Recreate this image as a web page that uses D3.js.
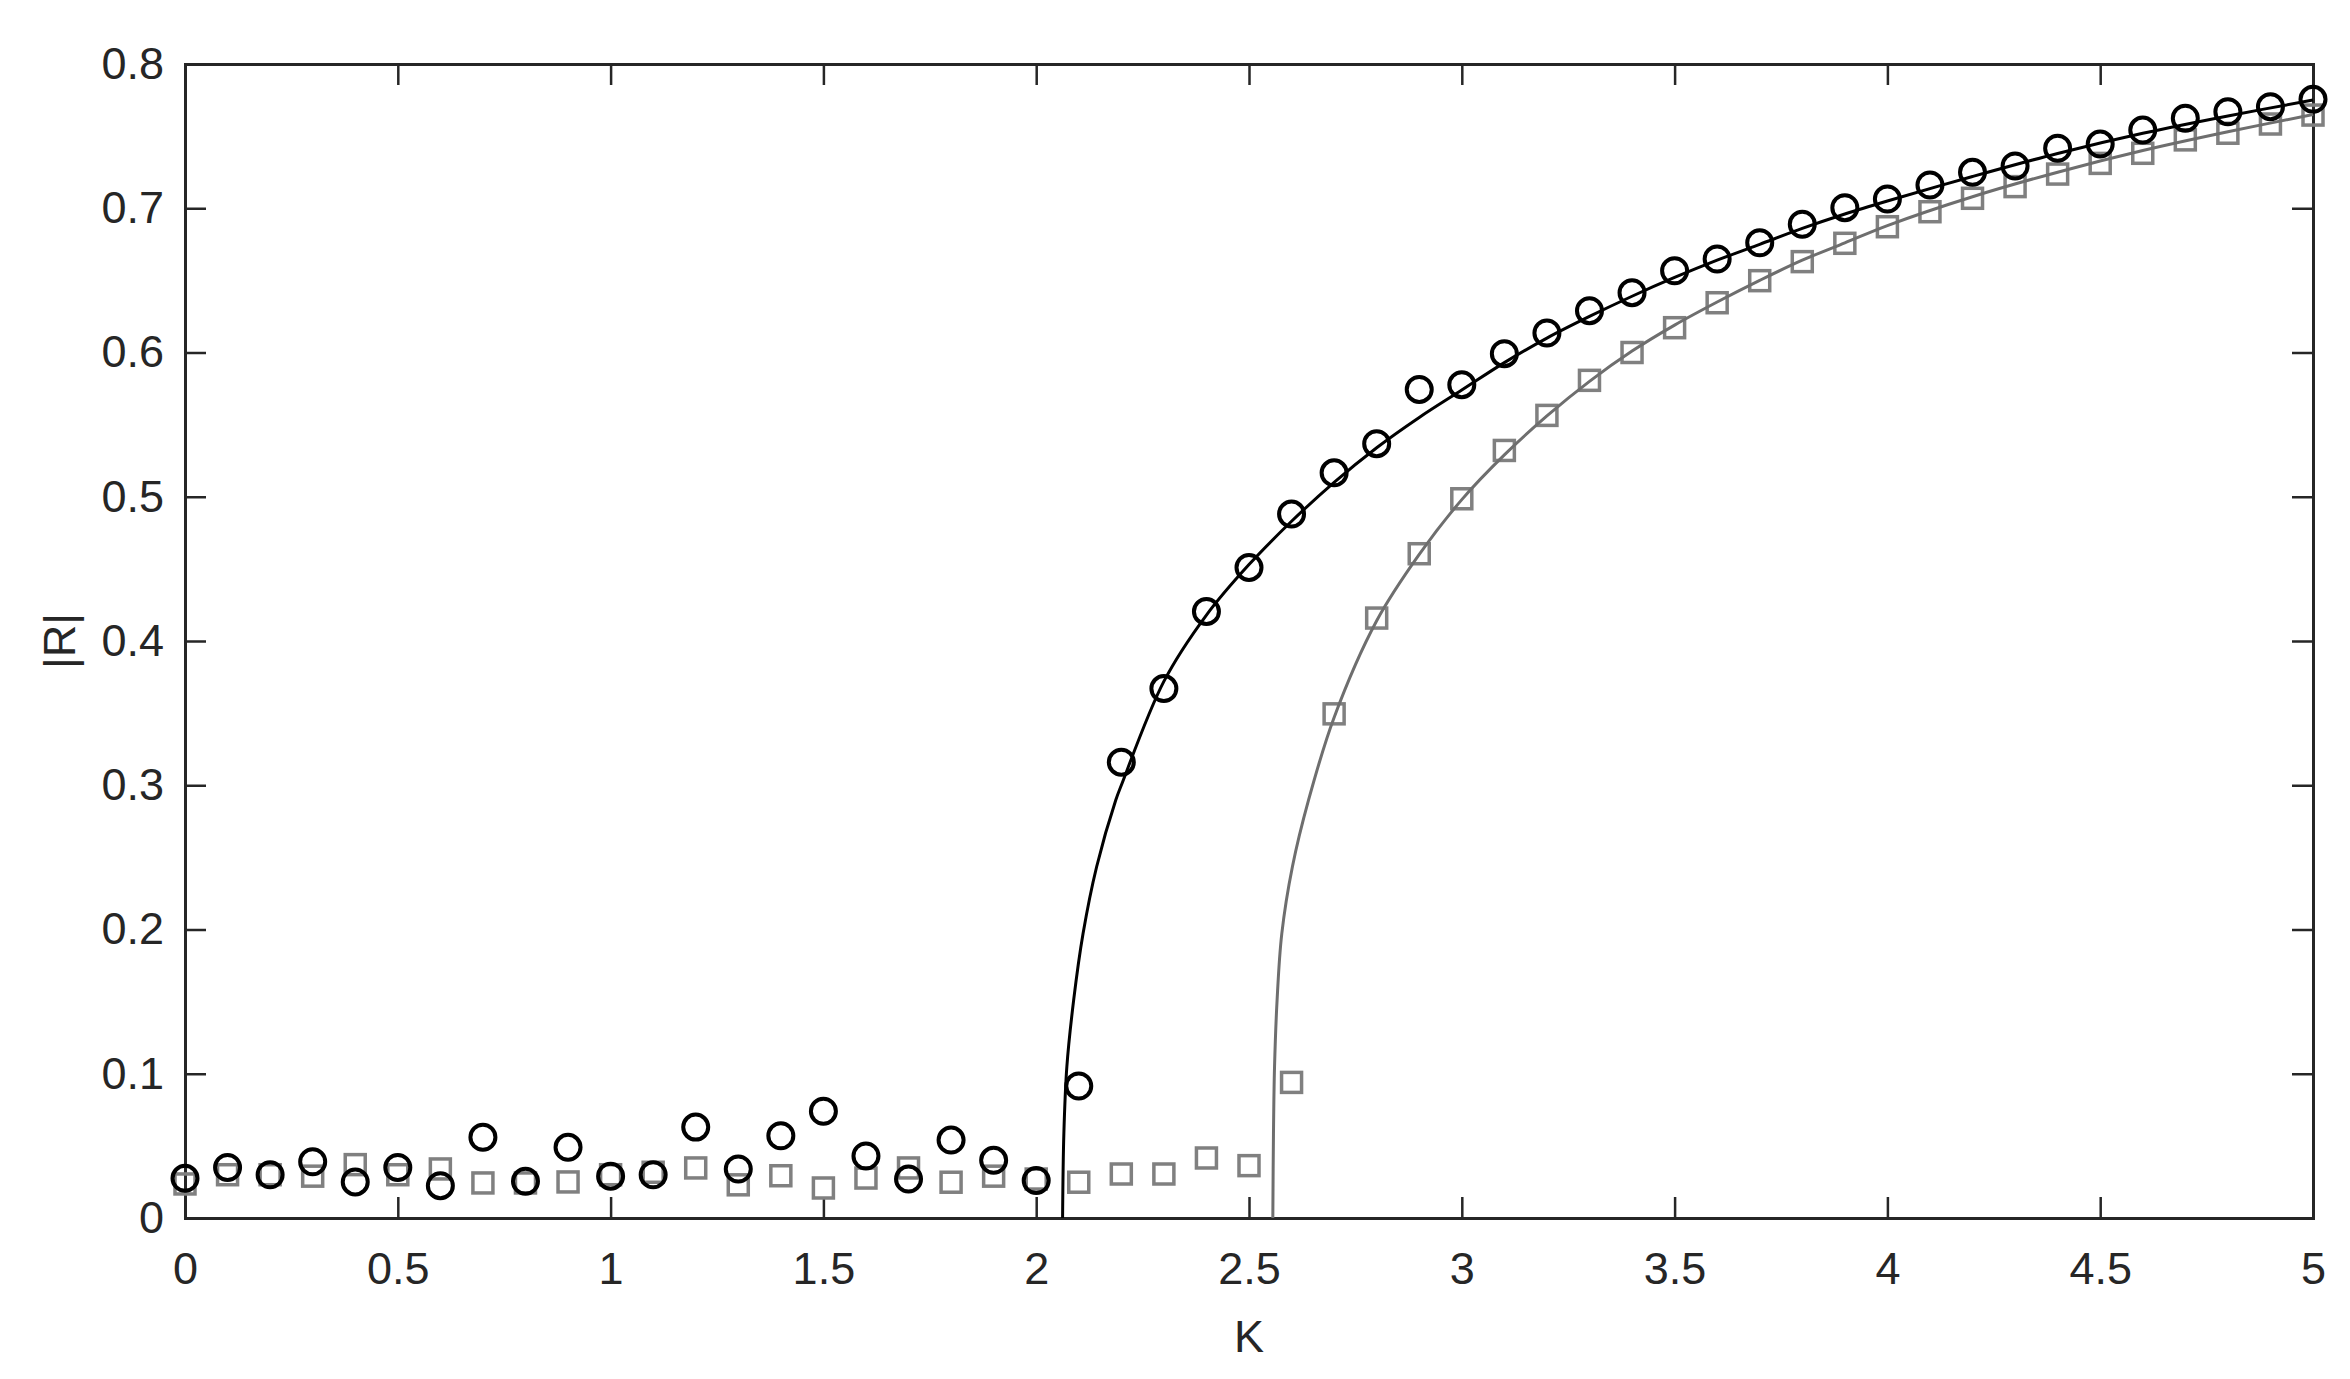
<!DOCTYPE html>
<html>
  <head>
    <meta charset="utf-8">
    <title>|R| against K</title>
    <script src="https://d3js.org/d3.v7.min.js"></script>
    <style>
      body { margin: 0; background: #fff; }
      svg { display: block; font-family: Arial, "Liberation Sans", sans-serif; }
      .axis text { font-size: 45px; fill: #262626; }
      .axis line { stroke: #262626; stroke-width: 2.5; }
      .axis path { stroke: #262626; stroke-width: 3; }
      .label { font-size: 45px; fill: #262626; }
    </style>
  </head>
  <body>
    <svg id="chart" width="2350" height="1379"></svg>
    <script>
      // K values for the markers (0 to 5, step 0.1)
      var kValues = [0, 0.1, 0.2, 0.3, 0.4, 0.5, 0.6, 0.7, 0.8, 0.9,
        1, 1.1, 1.2, 1.3, 1.4, 1.5, 1.6, 1.7, 1.8, 1.9,
        2, 2.1, 2.2, 2.3, 2.4, 2.5, 2.6, 2.7, 2.8, 2.9,
        3, 3.1, 3.2, 3.3, 3.4, 3.5, 3.6, 3.7, 3.8, 3.9,
        4, 4.1, 4.2, 4.3, 4.4, 4.5, 4.6, 4.7, 4.8, 4.9, 5];
      // black circles
      var circleR = [0.0275, 0.035, 0.030, 0.039, 0.025, 0.035, 0.0224, 0.056, 0.0254, 0.049,
        0.029, 0.030, 0.063, 0.034, 0.057, 0.074, 0.043, 0.027, 0.054, 0.040,
        0.026, 0.0915, 0.316, 0.367, 0.4205, 0.451, 0.488, 0.5166, 0.5368, 0.5744,
        0.5777, 0.5992, 0.6135, 0.629, 0.6415, 0.6567, 0.6648, 0.6761, 0.6889, 0.7004,
        0.7064, 0.7161, 0.7249, 0.7293, 0.7416, 0.7445, 0.7542, 0.7624, 0.7669, 0.7704, 0.7755];
      // grey squares
      var squareR = [0.0236, 0.030, 0.030, 0.029, 0.037, 0.030, 0.034, 0.0243, 0.0243, 0.025,
        0.030, 0.0317, 0.0347, 0.023, 0.0293, 0.0208, 0.0277, 0.0347, 0.0248, 0.029,
        0.027, 0.0248, 0.0305, 0.0305, 0.0416, 0.0363, 0.094, 0.3495, 0.4159, 0.4605,
        0.4986, 0.5321, 0.5564, 0.5807, 0.600, 0.6172, 0.6345, 0.6498, 0.663, 0.6757,
        0.6872, 0.6976, 0.7069, 0.715, 0.7237, 0.7311, 0.7381, 0.7474, 0.752, 0.7584, 0.7646];
      // black theory curve
      var blackCurveK = [2.062, 2.065, 2.072, 2.088, 2.110, 2.142, 2.187, 2.2, 2.3, 2.4,
        2.5, 2.6, 2.7, 2.8, 2.9, 3, 3.1, 3.2, 3.3, 3.4,
        3.5, 3.6, 3.7, 3.8, 3.9, 4, 4.2, 4.4, 4.6, 4.8, 5];
      var blackCurveR = [0, 0.0586, 0.1048, 0.151, 0.197, 0.2435, 0.2898, 0.300, 0.372, 0.418,
        0.453, 0.483, 0.510, 0.534, 0.555, 0.574, 0.593, 0.610, 0.625, 0.639,
        0.652, 0.664, 0.675, 0.686, 0.696, 0.705, 0.722, 0.738, 0.752, 0.764, 0.775];
      // grey theory curve
      var greyCurveK = [2.556, 2.5575, 2.560, 2.566, 2.577, 2.602, 2.640, 2.7, 2.8, 2.9,
        3, 3.1, 3.2, 3.3, 3.4, 3.5, 3.6, 3.7, 3.8, 3.9,
        4, 4.2, 4.4, 4.6, 4.8, 5];
      var greyCurveR = [0, 0.0586, 0.1048, 0.151, 0.197, 0.2435, 0.2898, 0.347, 0.414, 0.460,
        0.498, 0.529, 0.556, 0.580, 0.601, 0.619, 0.635, 0.650, 0.664, 0.676,
        0.688, 0.708, 0.725, 0.740, 0.753, 0.765];
      // ticks
      var xTicks = [0, 0.5, 1, 1.5, 2, 2.5, 3, 3.5, 4, 4.5, 5];
      var yTicks = [0, 0.1, 0.2, 0.3, 0.4, 0.5, 0.6, 0.7, 0.8];

      var width = 2350, height = 1379;
      var margin = { top: 64, right: 37, bottom: 161, left: 185 };
      var chart = d3.select("#chart");

      var x = d3.scaleLinear().domain([0, 5]).range([margin.left, width - margin.right]);
      var y = d3.scaleLinear().domain([0, 0.8]).range([height - margin.bottom, margin.top]);
      var fmt = d3.format("~g");
      var tick = 21;

      // axes (ticks point inwards on all four sides)
      chart.append("g").attr("class", "axis")
        .attr("transform", "translate(0," + (height - margin.bottom) + ")")
        .call(d3.axisBottom(x).tickValues(xTicks).tickFormat(fmt)
          .tickSizeInner(-tick).tickSizeOuter(0).tickPadding(34));
      chart.append("g").attr("class", "axis")
        .attr("transform", "translate(0," + margin.top + ")")
        .call(d3.axisTop(x).tickValues(xTicks).tickFormat("")
          .tickSizeInner(-tick).tickSizeOuter(0));
      chart.append("g").attr("class", "axis")
        .attr("transform", "translate(" + margin.left + ",0)")
        .call(d3.axisLeft(y).tickValues(yTicks).tickFormat(fmt)
          .tickSizeInner(-tick).tickSizeOuter(0).tickPadding(21));
      chart.append("g").attr("class", "axis")
        .attr("transform", "translate(" + (width - margin.right) + ",0)")
        .call(d3.axisRight(y).tickValues(yTicks).tickFormat("")
          .tickSizeInner(-tick).tickSizeOuter(0));
      chart.selectAll(".axis path").attr("stroke-linecap", "square");
      chart.selectAll(".axis text").attr("font-family", null);

      // axis titles
      chart.append("text").attr("class", "label")
        .attr("x", (margin.left + width - margin.right) / 2)
        .attr("y", 1352)
        .attr("text-anchor", "middle")
        .text("K");
      chart.append("text").attr("class", "label")
        .attr("transform", "translate(75," + ((margin.top + height - margin.bottom) / 2) + ") rotate(-90)")
        .attr("text-anchor", "middle")
        .text("|R|");

      // markers
      var sq = 20;
      chart.append("g").selectAll("rect")
        .data(kValues.map(function(k, i) { return [k, squareR[i]]; }))
        .enter().append("rect")
          .attr("x", function(d) { return x(d[0]) - sq / 2; })
          .attr("y", function(d) { return y(d[1]) - sq / 2; })
          .attr("width", sq)
          .attr("height", sq)
          .attr("fill", "none")
          .attr("stroke", "#808080")
          .attr("stroke-width", 3.5);
      chart.append("g").selectAll("circle")
        .data(kValues.map(function(k, i) { return [k, circleR[i]]; }))
        .enter().append("circle")
          .attr("cx", function(d) { return x(d[0]); })
          .attr("cy", function(d) { return y(d[1]); })
          .attr("r", 12.5)
          .attr("fill", "none")
          .attr("stroke", "#000")
          .attr("stroke-width", 4);

      // theory curves
      var line = d3.line()
        .x(function(d) { return x(d[0]); })
        .y(function(d) { return y(d[1]); })
        .curve(d3.curveCatmullRom.alpha(0.5));
      chart.append("path")
        .datum(greyCurveK.map(function(k, i) { return [k, greyCurveR[i]]; }))
        .attr("d", line)
        .attr("fill", "none")
        .attr("stroke", "#6e6e6e")
        .attr("stroke-width", 3);
      chart.append("path")
        .datum(blackCurveK.map(function(k, i) { return [k, blackCurveR[i]]; }))
        .attr("d", line)
        .attr("fill", "none")
        .attr("stroke", "#000")
        .attr("stroke-width", 3);
    </script>
  </body>
</html>
